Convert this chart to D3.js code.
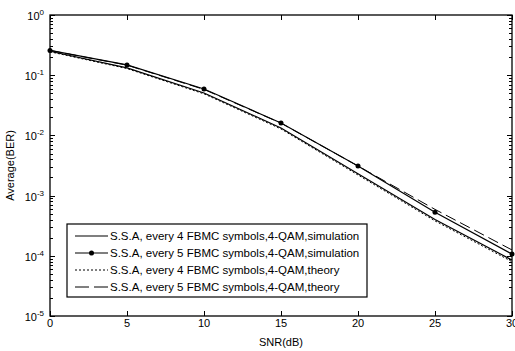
<!DOCTYPE html>
<html>
<head>
<meta charset="utf-8">
<script src="https://cdn.jsdelivr.net/npm/d3@7"></script>
<style>
body{margin:0;background:#fff}
text{font-family:"Liberation Sans",Arial,sans-serif;fill:#000}
</style>
</head>
<body>
<div class="B"></div>
<script>
// values
var snr = [0, 5, 10, 15, 20, 25, 30];
var sim4 = [0.25, 0.132, 0.0506, 0.0133, 0.0023, 0.0004, 0.000085];
var sim5 = [0.258, 0.148, 0.059, 0.0161, 0.0031, 0.00053, 0.000107];
var th4 = [0.245, 0.129, 0.049, 0.0128, 0.0022, 0.00038, 0.00008];
var th5 = [0.258, 0.147, 0.058, 0.016, 0.0031, 0.00059, 0.000125];
var xTicks = [0, 5, 10, 15, 20, 25, 30];
var yExp = [0, -1, -2, -3, -4, -5];
var names = [
    'S.S.A, every 4 FBMC symbols,4-QAM,simulation',
    'S.S.A, every 5 FBMC symbols,4-QAM,simulation',
    'S.S.A, every 4 FBMC symbols,4-QAM,theory',
    'S.S.A, every 5 FBMC symbols,4-QAM,theory'
];

var width = 515, height = 351;
var L = 50, R = 512, T = 15, B = 316;

var svg = d3.select('.B').append('svg')
    .attr('width', width).attr('height', height);

var x = d3.scaleLinear().domain([0, 30]).range([L, R]);
var y = d3.scaleLog().domain([1e-5, 1]).range([B, T]);

// minor ticks (log), on left and right
var minor = [];
for (var e = -5; e < 0; e++) {
    for (var m = 2; m <= 9; m++) minor.push(m * Math.pow(10, e));
}
var ax = svg.append('g');
ax.selectAll('.mn').data(minor).enter().append('path')
    .attr('d', function (d) {
        var yy = Math.round(y(d)) + 0.5;
        return 'M' + L + ',' + yy + 'h3M' + R + ',' + yy + 'h-3';
    })
    .style('stroke', '#000').style('stroke-width', 1);
ax.selectAll('.mj').data(yExp).enter().append('path')
    .attr('d', function (d) {
        var yy = Math.round(y(Math.pow(10, d))) + 0.5;
        return 'M' + L + ',' + yy + 'h5M' + R + ',' + yy + 'h-5';
    })
    .style('stroke', '#000').style('stroke-width', 1);
ax.selectAll('.xt').data(xTicks).enter().append('path')
    .attr('d', function (d) {
        var xx = Math.round(x(d)) + 0.5;
        return 'M' + xx + ',' + B + 'v-5M' + xx + ',' + T + 'v5';
    })
    .style('stroke', '#000').style('stroke-width', 1);

// frame
svg.append('rect').attr('x', L).attr('y', T).attr('width', R - L).attr('height', B - T)
    .style('fill', 'none').style('stroke', '#000').style('stroke-width', 1.3);

// y tick labels 10^n
var yl = svg.append('g').selectAll('text').data(yExp).enter().append('text')
    .attr('x', L - 6).attr('y', function (d) { return y(Math.pow(10, d)) + 5; })
    .attr('text-anchor', 'end').style('font-size', '11px');
yl.append('tspan').text('10');
yl.append('tspan').attr('dy', -5).style('font-size', '8px').text(function (d) { return d; });

// x tick labels
svg.append('g').selectAll('text').data(xTicks).enter().append('text')
    .attr('x', function (d) { return x(d); }).attr('y', B + 11)
    .attr('text-anchor', 'middle').style('font-size', '11px')
    .text(function (d) { return d; });

svg.append('text').attr('x', x(15)).attr('y', 346).attr('text-anchor', 'middle')
    .style('font-size', '11px').text('SNR(dB)');
svg.append('text').attr('transform', 'translate(14,' + ((T + B) / 2) + ') rotate(-90)')
    .attr('text-anchor', 'middle').style('font-size', '11px').text('Average(BER)');

// curves
var line = d3.line().x(function (d) { return x(d[0]); }).y(function (d) { return y(d[1]); });
var series = [
    {v: sim4, dash: null, w: 1.2},
    {v: sim5, dash: null, w: 1.2},
    {v: th4, dash: '2,2', w: 1},
    {v: th5, dash: '11,5', w: 1}
];
var plot = svg.append('g');
series.forEach(function (s) {
    plot.append('path').attr('d', line(d3.zip(snr, s.v)))
        .style('fill', 'none').style('stroke', '#000').style('stroke-width', s.w)
        .style('stroke-dasharray', s.dash);
});
plot.selectAll('circle').data(d3.zip(snr, sim5)).enter().append('circle')
    .attr('cx', function (d) { return x(d[0]); }).attr('cy', function (d) { return y(d[1]); })
    .attr('r', 2.5).style('fill', '#000');

// legend
var lg = svg.append('g').attr('transform', 'translate(67,224)');
lg.append('rect').attr('width', 300).attr('height', 73)
    .style('fill', '#fff').style('stroke', '#000').style('stroke-width', 1.2);
var row = lg.selectAll('.row').data(names).enter().append('g')
    .attr('transform', function (d, i) { return 'translate(0,' + (12 + i * 17) + ')'; });
row.append('path').attr('d', 'M8,0H41')
    .style('stroke', '#000')
    .style('stroke-width', function (d, i) { return series[i].w; })
    .style('stroke-dasharray', function (d, i) { return i == 3 ? '14,5' : series[i].dash; });
row.filter(function (d, i) { return i == 1; }).append('circle')
    .attr('cx', 24.5).attr('r', 2.5).style('fill', '#000');
row.append('text').attr('x', 43).attr('y', 4).style('font-size', '11.5px')
    .text(function (d) { return d; });
</script>
</body>
</html>
